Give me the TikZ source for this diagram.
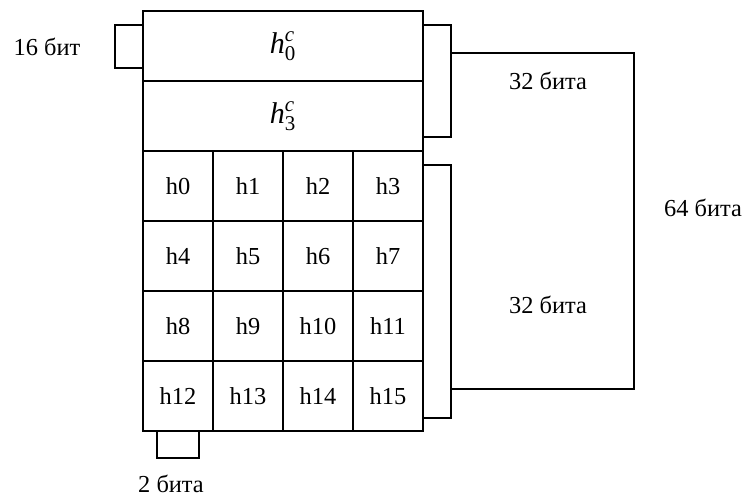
\documentclass[tikz,border=0pt]{standalone}
\usepackage{amsmath}
\usepackage{fontspec}
\setmainfont{Liberation Serif}
\usetikzlibrary{positioning}

\tikzset{
  cell/.style={draw,line width=1pt,minimum width=35pt,minimum height=35pt,inner sep=0pt},
  wide/.style={draw,line width=1pt,minimum width=140pt,minimum height=35pt,inner sep=0pt},
  brace/.style={line width=1pt},
  lbl/.style={inner sep=0pt}
}

\begin{document}
\begin{tikzpicture}[x=0.5pt,y=-0.5pt,font=\fontsize{12.2}{14}\selectfont]
\useasboundingbox (0,0) rectangle (744,496);
% upper words
\node[wide] (hc0) at (283,46) {\fontsize{15}{17}\selectfont$\textit{h}^{\textit{c}}_{\text{0}}$};
\node[wide] (hc3) at (283,116) {\fontsize{15}{17}\selectfont$\textit{h}^{\textit{c}}_{\text{3}}$};
% 4x4 grid
\foreach \r in {0,...,3}
  \foreach \c in {0,...,3}{
    \pgfmathtruncatemacro{\k}{4*\r+\c}
    \node[cell] (h\k) at (178+70*\c,186+70*\r) {h\k};
  }
% brackets
\coordinate (a1) at (115,25);
\coordinate (a2) at (115,68);
\draw[brace] (hc0.west |- a1) -- (a1) -- (a2) -- (hc0.west |- a2);
\coordinate (b1) at (451,25);
\coordinate (b2) at (451,137);
\draw[brace] (hc0.east |- b1) -- (b1) -- (b2) -- (hc3.east |- b2);
\coordinate (c1) at (451,165);
\coordinate (c2) at (451,418);
\draw[brace] (h3.east |- c1) -- (c1) -- (c2) -- (h15.east |- c2);
\coordinate (d1) at (634,53);
\coordinate (d2) at (634,389);
\draw[brace] (b1 |- d1) -- (d1) -- (d2) -- (c1 |- d2);
\coordinate (e1) at (157,458);
\coordinate (e2) at (199,458);
\draw[brace] (h12.south -| e1) -- (e1) -- (e2) -- (h12.south -| e2);
% labels
\node[lbl] (l16) at (47,47) {16 бит};
\node[lbl] (l32a) at (548,81) {32 бита};
\node[lbl] (l32b) at (548,305) {32 бита};
\node[lbl] (l64) at (703,208) {64 бита};
\node[lbl] (l2) at (171,484) {2 бита};
\end{tikzpicture}
\end{document}
